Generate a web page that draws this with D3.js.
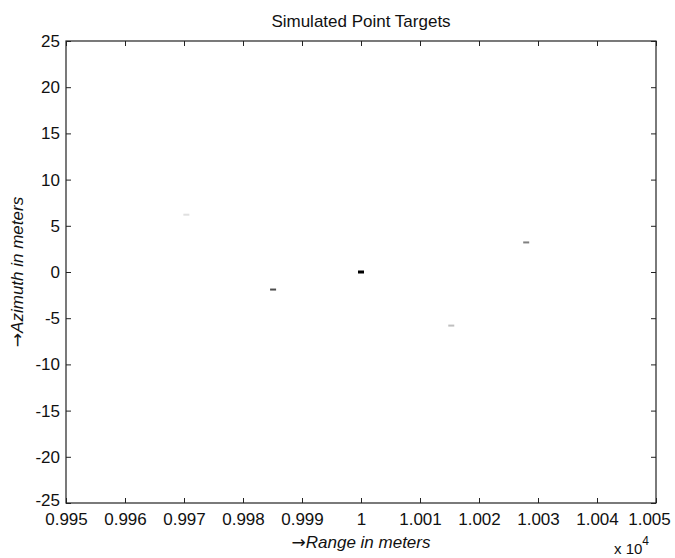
<!DOCTYPE html>
<html>
<head>
<meta charset="utf-8">
<script src="https://cdn.jsdelivr.net/npm/d3@7"></script>
<style>
  body { margin: 0; background: #fff; }
  svg { font-family: "Liberation Sans", Arial, sans-serif; }
</style>
</head>
<body>
<script>
// point targets: range (m), azimuth (m), relative intensity
const targetRange = [9970.4, 9985.1, 10000, 10015.3, 10028]
const targetAzimuth = [6.2, -1.9, 0, -5.8, 3.2]
const targetIntensity = [0.12, 0.7, 1.0, 0.25, 0.5]

// axis ticks
const rangeTicks = [9950, 9960, 9970, 9980, 9990, 10000, 10010, 10020, 10030, 10040, 10050]
const azimuthTicks = [-25, -20, -15, -10, -5, 0, 5, 10, 15, 20, 25]

const w = 675
const h = 558
const m = { left: 66, right: 19, top: 41, bottom: 55 }
const fs = '17px'

const svg = d3.select('body')
    .append('svg')
    .attr('width', w)
    .attr('height', h)

const x = d3.scaleLinear().domain([9950, 10050]).range([m.left, w - m.right])
const y = d3.scaleLinear().domain([-25, 25]).range([h - m.bottom, m.top])
const grey = d3.scaleLinear().domain([0, 1]).range(['#ffffff', '#000000'])

// labels like matlab: 0.995 ... 1 ... 1.005 (x 10^4)
const fmtRange = v => String(+(v / 1e4).toFixed(3))

// axes, ticks point inward
const axisStyle = g => {
    g.select('.domain').remove()
    g.selectAll('line').attr('stroke', '#222')
    g.selectAll('text').style('font-size', fs).attr('fill', '#111')
}

const xAxis = svg.append('g')
    .attr('transform', `translate(0,${h - m.bottom})`)
    .call(d3.axisBottom(x).tickValues(rangeTicks).tickFormat(fmtRange)
        .tickSizeInner(-5).tickSizeOuter(0).tickPadding(10))
    .call(axisStyle)
// last label pulled in so it stays inside the figure
xAxis.selectAll('.tick text').filter(d => d === 10050).attr('dx', -7)

svg.append('g')
    .attr('transform', `translate(0,${m.top})`)
    .call(d3.axisTop(x).tickValues(rangeTicks).tickFormat('')
        .tickSizeInner(-5).tickSizeOuter(0))
    .call(axisStyle)

const yAxis = svg.append('g')
    .attr('transform', `translate(${m.left},0)`)
    .call(d3.axisLeft(y).tickValues(azimuthTicks).tickFormat(d => String(d))
        .tickSizeInner(-5).tickSizeOuter(0).tickPadding(6))
    .call(axisStyle)
// bottom label sits a bit higher, clear of 0.995
yAxis.selectAll('.tick text').filter(d => d === -25).attr('y', -3)

svg.append('g')
    .attr('transform', `translate(${w - m.right},0)`)
    .call(d3.axisRight(y).tickValues(azimuthTicks).tickFormat('')
        .tickSizeInner(-5).tickSizeOuter(0))
    .call(axisStyle)

// box
svg.append('rect')
    .attr('x', x(9950))
    .attr('y', y(25))
    .attr('width', x(10050) - x(9950))
    .attr('height', y(-25) - y(25))
    .attr('fill', 'none')
    .attr('stroke', '#222')
    .attr('stroke-width', 1.2)

// targets as small dashes
svg.append('g')
    .selectAll('rect')
    .data(targetRange.map((r, i) => ({ r, a: targetAzimuth[i], v: targetIntensity[i] })))
    .enter()
    .append('rect')
    .attr('x', d => x(d.r) - 3)
    .attr('y', d => y(d.a) - (d.v === 1 ? 1.5 : 1))
    .attr('width', 6)
    .attr('height', d => d.v === 1 ? 3 : 2)
    .attr('fill', d => grey(d.v))

// title
svg.append('text')
    .attr('x', (x(9950) + x(10050)) / 2)
    .attr('y', 27)
    .attr('text-anchor', 'middle')
    .style('font-size', fs)
    .attr('fill', '#111')
    .text('Simulated Point Targets')

// axis labels, arrow in a font with a full size glyph
const xLabel = svg.append('text')
    .attr('x', (x(9950) + x(10050)) / 2)
    .attr('y', 548)
    .attr('text-anchor', 'middle')
    .style('font-size', fs)
    .attr('fill', '#111')
xLabel.append('tspan').style('font-family', 'DejaVu Sans').text('\u2192')
xLabel.append('tspan').style('font-style', 'italic').text('Range in meters')

const yLabel = svg.append('text')
    .attr('transform', `translate(23,${(y(25) + y(-25)) / 2}) rotate(-90)`)
    .attr('text-anchor', 'middle')
    .style('font-size', fs)
    .attr('fill', '#111')
yLabel.append('tspan').style('font-family', 'DejaVu Sans').text('\u2192')
yLabel.append('tspan').style('font-style', 'italic').text('Azimuth in meters')

// exponent
const expo = svg.append('text')
    .attr('x', 614)
    .attr('y', 554)
    .style('font-size', '15px')
    .attr('fill', '#111')
expo.append('tspan').text('x 10')
expo.append('tspan').attr('dy', -9).style('font-size', '12px').text('4')
</script>
</body>
</html>
